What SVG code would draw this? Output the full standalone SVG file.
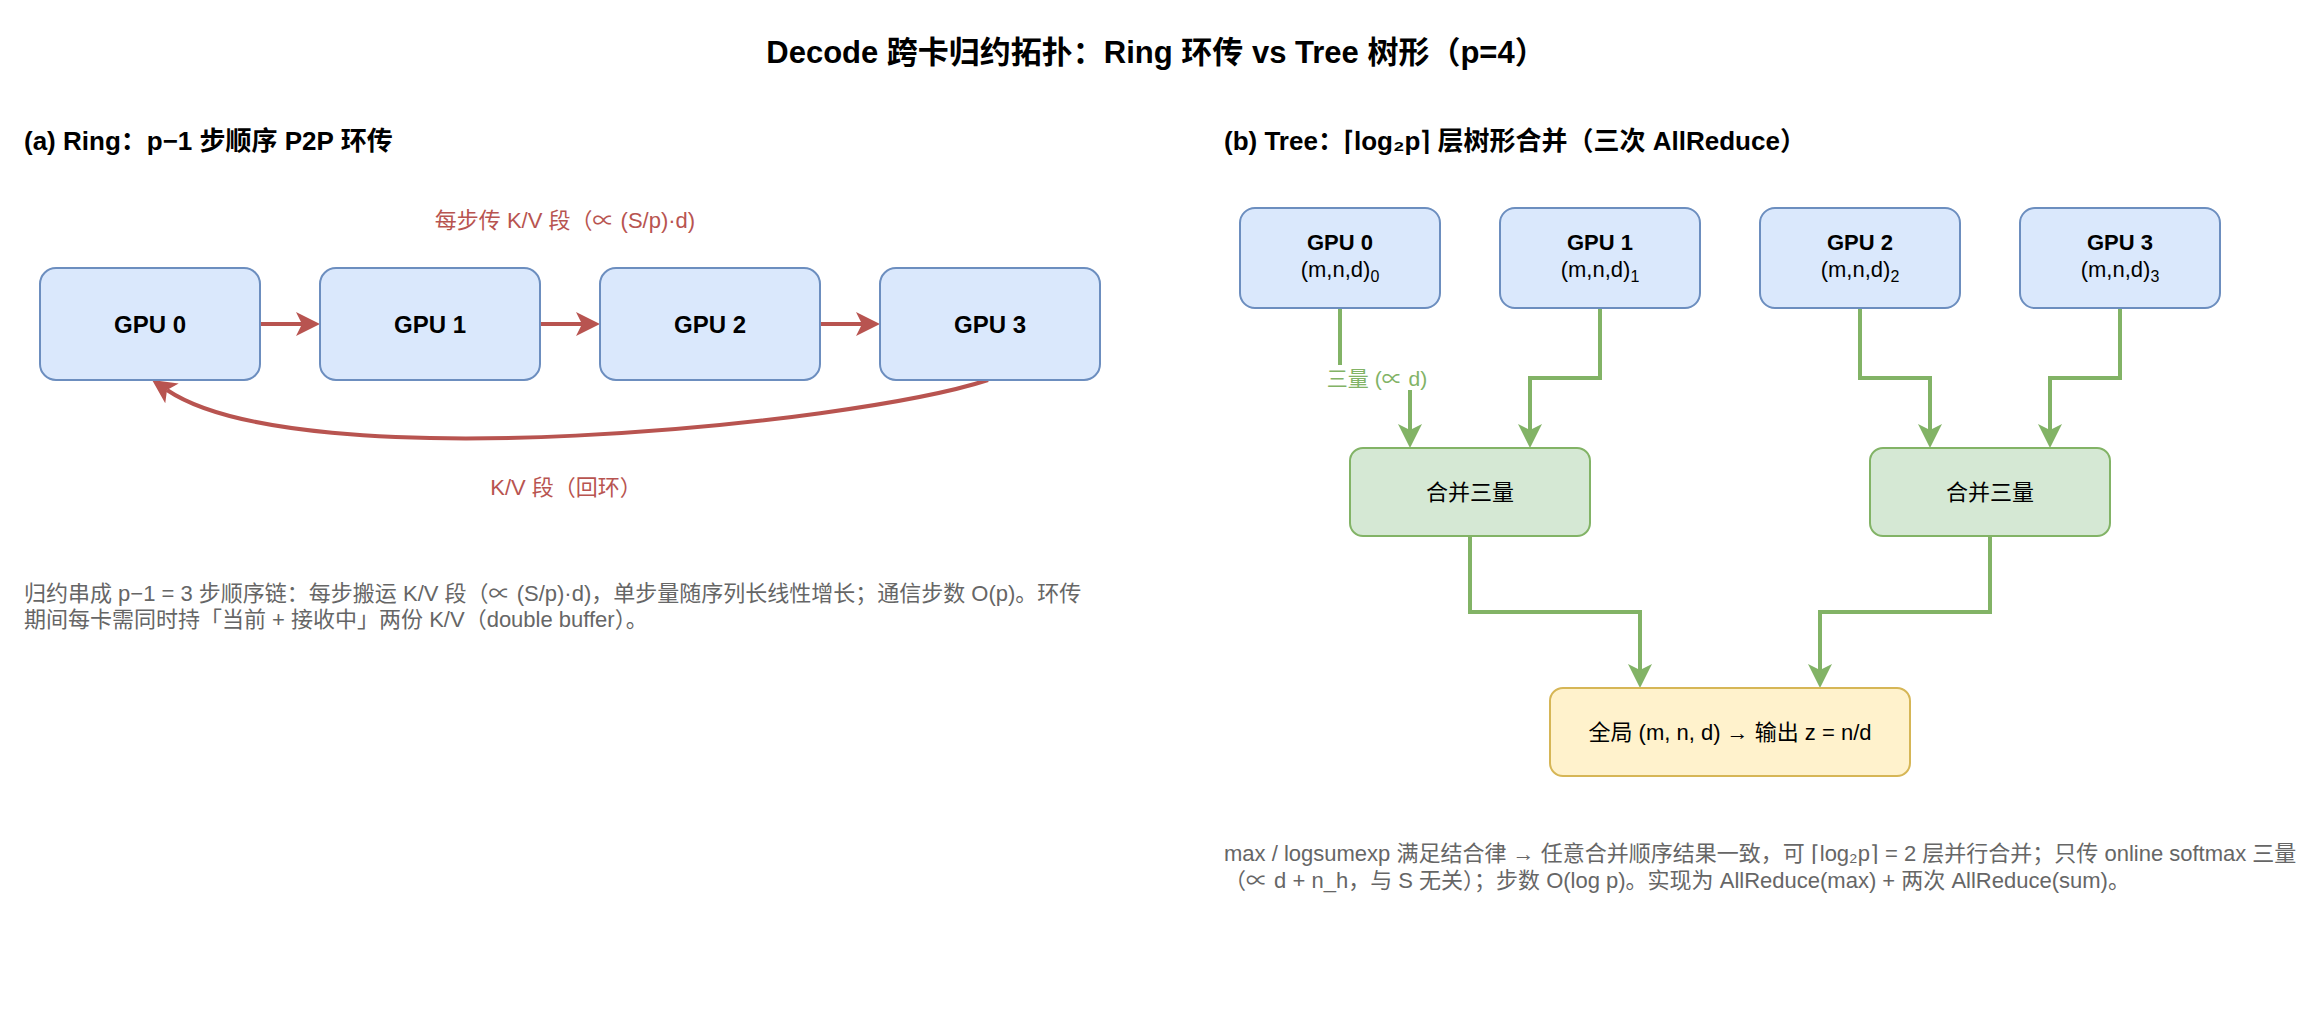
<svg xmlns="http://www.w3.org/2000/svg" width="2312" height="1020" viewBox="0 0 2312 1020">
<style>
text{font-family:"Liberation Sans","Noto Sans CJK SC",sans-serif;}
.title{font-size:31px;font-weight:bold;fill:#000;}
.sec{font-size:26px;font-weight:bold;fill:#000;}
.body{font-size:22px;fill:#666666;}
.blue{fill:#dae8fc;stroke:#6c8ebf;stroke-width:2;}
.green{fill:#d5e8d4;stroke:#82b366;stroke-width:2;}
.yellow{fill:#fff2cc;stroke:#d6b656;stroke-width:2;}
.lbl{font-size:22px;fill:#000;text-anchor:middle;}
.lblb{font-size:22px;font-weight:bold;fill:#000;text-anchor:middle;}
.ringlbl{font-size:24px;font-weight:bold;fill:#000;text-anchor:middle;}
.red{fill:none;stroke:#b85450;stroke-width:4;}
.grn{fill:none;stroke:#82b366;stroke-width:4;}
.redt{font-size:22px;fill:#b85450;text-anchor:middle;}
.grnt{font-size:21px;fill:#82b366;text-anchor:middle;}
</style>
<defs>
<marker id="ar" markerUnits="userSpaceOnUse" viewBox="0 0 24 24" markerWidth="24" markerHeight="24" refX="6" refY="12" orient="auto">
<path d="M0,0 L24,12 L0,24 L6,12 Z" fill="#b85450"/>
</marker>
<marker id="ag" markerUnits="userSpaceOnUse" viewBox="0 0 24 24" markerWidth="24" markerHeight="24" refX="6" refY="12" orient="auto">
<path d="M0,0 L24,12 L0,24 L6,12 Z" fill="#82b366"/>
</marker>
</defs>
<rect width="2312" height="1020" fill="#ffffff"/>
<text class="title" x="1156" y="63" text-anchor="middle">Decode 跨卡归约拓扑：Ring 环传 vs Tree 树形（p=4）</text>
<text class="sec" x="24" y="150">(a) Ring：p−1 步顺序 P2P 环传</text>
<text class="sec" x="1224" y="150">(b) Tree：⌈log₂p⌉ 层树形合并（三次 AllReduce）</text>

<g id="connectors">
<path class="red" d="M260,324 H302" marker-end="url(#ar)"/>
<path class="red" d="M540,324 H582" marker-end="url(#ar)"/>
<path class="red" d="M820,324 H862" marker-end="url(#ar)"/>
<path class="red" d="M988,380 C850,425 300,480 167,390" marker-end="url(#ar)"/>
<text class="redt" x="565" y="228">每步传 K/V 段（∝ (S/p)·d)</text>
<text class="redt" x="566" y="495">K/V 段（回环）</text>
<path class="grn" d="M1340,308 V378 H1410 V430" marker-end="url(#ag)"/>
<rect x="1326" y="365" width="102" height="25" fill="#ffffff"/>
<text class="grnt" x="1377" y="386">三量 (∝ d)</text>
<path class="grn" d="M1600,308 V378 H1530 V430" marker-end="url(#ag)"/>
<path class="grn" d="M1860,308 V378 H1930 V430" marker-end="url(#ag)"/>
<path class="grn" d="M2120,308 V378 H2050 V430" marker-end="url(#ag)"/>
<path class="grn" d="M1470,536 V612 H1640 V670" marker-end="url(#ag)"/>
<path class="grn" d="M1990,536 V612 H1820 V670" marker-end="url(#ag)"/>
</g>

<g id="ring-gpu0"><rect class="blue" x="40" y="268" width="220" height="112" rx="16"/><text class="ringlbl" x="150" y="333">GPU 0</text></g>
<g id="ring-gpu1"><rect class="blue" x="320" y="268" width="220" height="112" rx="16"/><text class="ringlbl" x="430" y="333">GPU 1</text></g>
<g id="ring-gpu2"><rect class="blue" x="600" y="268" width="220" height="112" rx="16"/><text class="ringlbl" x="710" y="333">GPU 2</text></g>
<g id="ring-gpu3"><rect class="blue" x="880" y="268" width="220" height="112" rx="16"/><text class="ringlbl" x="990" y="333">GPU 3</text></g>

<g id="ring-note">
<text class="body" x="24" y="601">归约串成 p−1 = 3 步顺序链：每步搬运 K/V 段（∝ (S/p)·d)，单步量随序列长线性增长；通信步数 O(p)。环传</text>
<text class="body" x="24" y="627">期间每卡需同时持「当前 + 接收中」两份 K/V（double buffer）。</text>
</g>

<g id="tree-gpu0"><rect class="blue" x="1240" y="208" width="200" height="100" rx="15"/><text class="lblb" x="1340" y="250">GPU 0</text><text class="lbl" x="1340" y="277">(m,n,d)<tspan font-size="16" dy="5">0</tspan></text></g>
<g id="tree-gpu1"><rect class="blue" x="1500" y="208" width="200" height="100" rx="15"/><text class="lblb" x="1600" y="250">GPU 1</text><text class="lbl" x="1600" y="277">(m,n,d)<tspan font-size="16" dy="5">1</tspan></text></g>
<g id="tree-gpu2"><rect class="blue" x="1760" y="208" width="200" height="100" rx="15"/><text class="lblb" x="1860" y="250">GPU 2</text><text class="lbl" x="1860" y="277">(m,n,d)<tspan font-size="16" dy="5">2</tspan></text></g>
<g id="tree-gpu3"><rect class="blue" x="2020" y="208" width="200" height="100" rx="15"/><text class="lblb" x="2120" y="250">GPU 3</text><text class="lbl" x="2120" y="277">(m,n,d)<tspan font-size="16" dy="5">3</tspan></text></g>

<g id="merge-left"><rect class="green" x="1350" y="448" width="240" height="88" rx="13"/><text class="lbl" x="1470" y="500">合并三量</text></g>
<g id="merge-right"><rect class="green" x="1870" y="448" width="240" height="88" rx="13"/><text class="lbl" x="1990" y="500">合并三量</text></g>
<g id="global"><rect class="yellow" x="1550" y="688" width="360" height="88" rx="13"/><text class="lbl" x="1730" y="740">全局 (m, n, d) → 输出 z = n/d</text></g>

<g id="tree-note">
<text class="body" x="1224" y="861">max / logsumexp 满足结合律 → 任意合并顺序结果一致，可 ⌈log₂p⌉ = 2 层并行合并；只传 online softmax 三量</text>
<text class="body" x="1224" y="888">（∝ d + n_h，与 S 无关）；步数 O(log p)。实现为 AllReduce(max) + 两次 AllReduce(sum)。</text>
</g>
</svg>
